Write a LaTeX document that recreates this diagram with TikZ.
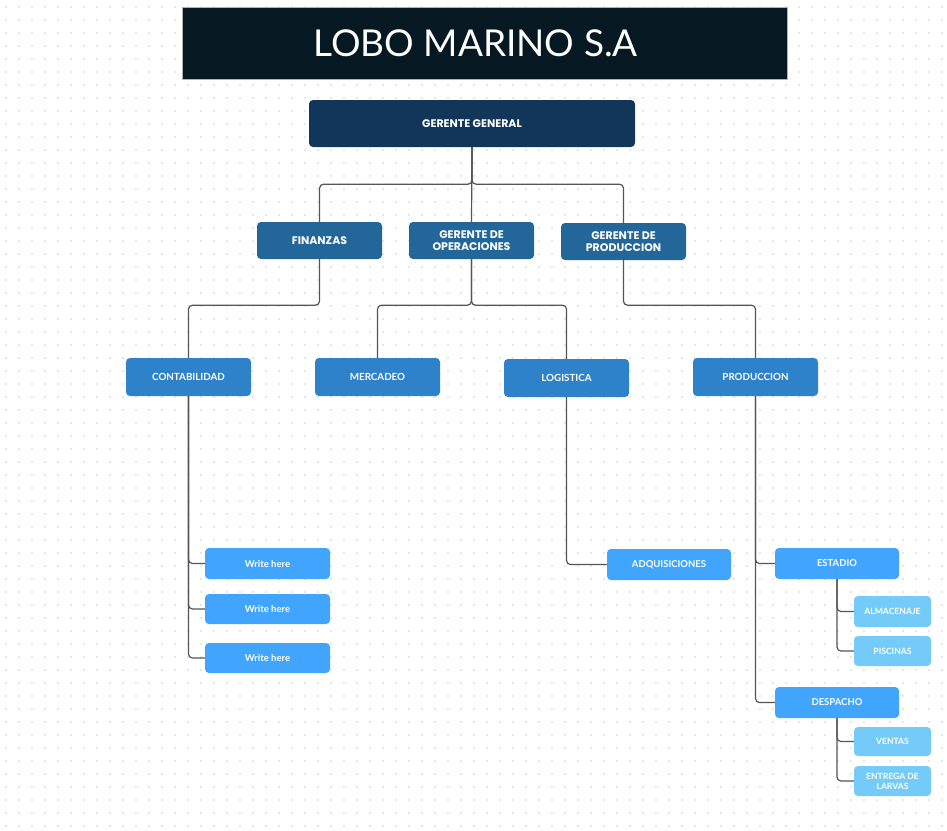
\documentclass[tikz,border=0pt]{standalone}
\usepackage{fontspec}
\usepackage{tikz}
\newfontfamily\titulofont{Lato}
\newfontfamily\jefefont{Poppins}
\newfontfamily\cajafont{Lato}
\definecolor{fondo}{HTML}{061822}
\definecolor{nivelA}{HTML}{11365A}
\definecolor{nivelB}{HTML}{236699}
\definecolor{nivelC}{HTML}{2E82CA}
\definecolor{nivelD}{HTML}{41A5FE}
\definecolor{nivelE}{HTML}{74CBF8}
\definecolor{linea}{HTML}{555555}
\definecolor{punto}{HTML}{E4E7EC}
\tikzstyle{caja} = [rounded corners=4pt, inner sep=0pt, align=center, text=white]
\tikzstyle{jefe} = [caja, font=\jefefont\bfseries\fontsize{11}{12}\selectfont]
\tikzstyle{area} = [caja, font=\cajafont\bfseries\fontsize{9.8}{11}\selectfont]
\tikzstyle{hoja} = [caja, font=\cajafont\bfseries\fontsize{9.5}{11}\selectfont]
\tikzstyle{sub} = [caja, font=\cajafont\bfseries\fontsize{8.6}{10}\selectfont]
\tikzstyle{union} = [draw=linea, line width=1.2pt, rounded corners=4pt]
\tikzstyle{puntos} = [draw=punto, line width=2pt, dash pattern=on 2pt off 11pt]

\begin{document}
\begin{tikzpicture}[x=1pt, y=-1pt]
\useasboundingbox (0,0) rectangle (947,830);
\fill[white] (0,0) rectangle (947,830);
\foreach \r in {0,...,63}{
    \draw[puntos] (5,7+13*\r) -- (947,7+13*\r);
}
% titulo
\node[fill=fondo, draw=gray!60, line width=0.6pt, inner sep=0pt, minimum width=605pt, minimum height=72pt,
      text=white, font=\titulofont\fontsize{37}{40}\selectfont] (titulo) at (484.5,43) {LOBO MARINO S.A\hspace*{18pt}};
% gerencia
\node[jefe, fill=nivelA, minimum width=326pt, minimum height=47pt] (gg) at (472,123.5) {GERENTE GENERAL};
\node[jefe, fill=nivelB, minimum width=125pt, minimum height=37pt] (fin) at (319.5,240.5) {FINANZAS};
\node[jefe, fill=nivelB, minimum width=125pt, minimum height=37pt] (ope) at (471.5,240.5) {GERENTE DE\\OPERACIONES};
\node[jefe, fill=nivelB, minimum width=125pt, minimum height=37pt] (ger) at (623.5,241.5) {GERENTE DE\\PRODUCCION};
% areas
\node[area, fill=nivelC, minimum width=125pt, minimum height=38pt] (cont) at (188.5,377) {CONTABILIDAD};
\node[area, fill=nivelC, minimum width=125pt, minimum height=38pt] (merc) at (377.5,377) {MERCADEO};
\node[area, fill=nivelC, minimum width=125pt, minimum height=38pt] (logi) at (566.5,378) {LOGISTICA};
\node[area, fill=nivelC, minimum width=125pt, minimum height=38pt] (prod) at (755.5,377) {PRODUCCION};
% tercer nivel
\node[hoja, fill=nivelD, minimum width=125pt, minimum height=31pt] (w1) at (267.5,563.5) {Write here};
\node[hoja, fill=nivelD, minimum width=125pt, minimum height=30pt] (w2) at (267.5,609) {Write here};
\node[hoja, fill=nivelD, minimum width=125pt, minimum height=30pt] (w3) at (267.5,658) {Write here};
\node[hoja, fill=nivelD, minimum width=124pt, minimum height=31pt] (adq) at (669,564.5) {ADQUISICIONES};
\node[hoja, fill=nivelD, minimum width=124pt, minimum height=31pt] (est) at (837,563.5) {ESTADIO};
\node[hoja, fill=nivelD, minimum width=124pt, minimum height=31pt] (desp) at (837,702.5) {DESPACHO};
% cuarto nivel
\node[sub, fill=nivelE, minimum width=77pt, minimum height=31pt] (alm) at (892.5,611.5) {ALMACENAJE};
\node[sub, fill=nivelE, minimum width=77pt, minimum height=30pt] (pis) at (892.5,651) {PISCINAS};
\node[sub, fill=nivelE, minimum width=77pt, minimum height=29pt] (ven) at (892.5,741.5) {VENTAS};
\node[sub, fill=nivelE, minimum width=77pt, minimum height=30pt] (ent) at (892.5,781) {ENTREGA DE\\LARVAS};
% uniones
\draw[union] (gg.south) -- ++(0,37) -| (fin.north);
\draw[union] (gg.south) -- (ope.north);
\draw[union] (gg.south) -- ++(0,37) -| (ger.north);
\draw[union] (fin.south) -- ++(0,46) -| (cont.north);
\draw[union] (ope.south) -- ++(0,46) -| (merc.north);
\draw[union] (ope.south) -- ++(0,46) -| (logi.north);
\draw[union] (ger.south) -- ++(0,45) -| (prod.north);
\foreach \w in {w1,w2,w3}{
    \draw[union] (cont.south) |- (\w.west);
}
\draw[union] (logi.south) |- (adq.west);
\draw[union] (prod.south) |- (est.west);
\draw[union] (prod.south) |- (desp.west);
\draw[union] (est.south) |- (alm.west);
\draw[union] (est.south) |- (pis.west);
\draw[union] (desp.south) |- (ven.west);
\draw[union] (desp.south) |- (ent.west);
\end{tikzpicture}
\end{document}
